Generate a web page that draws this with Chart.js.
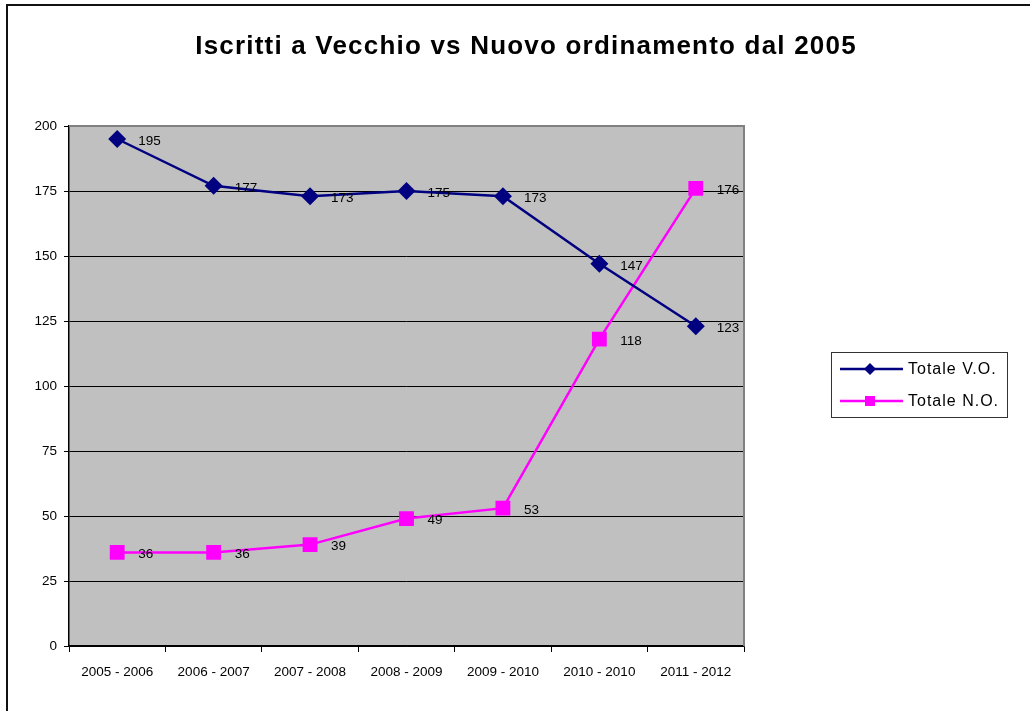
<!DOCTYPE html>
<html>
<head>
<meta charset="utf-8">
<script src="https://cdn.jsdelivr.net/npm/chart.js@4"></script>
<style>
  html, body { margin: 0; padding: 0; background: #fff; }
  #wrap { width: 1030px; height: 711px; position: relative; }
</style>
</head>
<body>
<div id="wrap"><canvas id="chart" width="1030" height="711"></canvas></div>
<script>
// Chart data
const chartTitle = "Iscritti a Vecchio vs Nuovo ordinamento dal 2005";
const categories = ["2005 - 2006", "2006 - 2007", "2007 - 2008", "2008 - 2009", "2009 - 2010", "2010 - 2010", "2011 - 2012"];
const totaleVO = [195, 177, 173, 175, 173, 147, 123];
const totaleNO = [36, 36, 39, 49, 53, 118, 176];
const seriesNames = ["Totale V.O.", "Totale N.O."];
const yTicks = [0, 25, 50, 75, 100, 125, 150, 175, 200];

const FONT = "Arial, 'Liberation Sans', sans-serif";

// Gray plot background, frame, title, labels and legend
const backdrop = {
  id: "backdrop",
  beforeDraw(chart) {
    const { ctx, chartArea: a } = chart;
    ctx.save();
    ctx.fillStyle = "#fff";
    ctx.fillRect(0, 0, chart.width, chart.height);
    ctx.fillStyle = "#c0c0c0";
    ctx.fillRect(a.left, a.top, a.right - a.left, a.bottom - a.top);
    // outer frame (top + left visible)
    ctx.strokeStyle = "#111";
    ctx.lineWidth = 2;
    ctx.beginPath();
    ctx.moveTo(7, 711);
    ctx.lineTo(7, 5);
    ctx.lineTo(1030, 5);
    ctx.stroke();
    // title
    ctx.fillStyle = "#000";
    ctx.font = "bold 26px " + FONT;
    ctx.letterSpacing = "1.2px";
    ctx.textAlign = "center";
    ctx.textBaseline = "middle";
    ctx.fillText(chartTitle, 526, 47);
    ctx.restore();
  },
  afterDatasetsDraw(chart) {
    const { ctx, chartArea: a } = chart;
    ctx.save();
    // gray plot border top/right
    ctx.strokeStyle = "#808080";
    ctx.lineWidth = 2;
    ctx.beginPath();
    ctx.moveTo(a.left, a.top);
    ctx.lineTo(a.right, a.top);
    ctx.lineTo(a.right, a.bottom);
    ctx.stroke();
    // data labels
    ctx.fillStyle = "#000";
    ctx.font = "13.5px " + FONT;
    ctx.textAlign = "left";
    ctx.textBaseline = "middle";
    chart.data.datasets.forEach((ds, i) => {
      chart.getDatasetMeta(i).data.forEach((pt, j) => {
        ctx.fillText(String(ds.data[j]), pt.x + 21, pt.y + 2);
      });
    });
    // legend
    const lx = 831, ly = 352, lw = 176, lh = 65;
    ctx.fillStyle = "#fff";
    ctx.fillRect(lx, ly, lw, lh);
    ctx.strokeStyle = "#333";
    ctx.lineWidth = 1;
    ctx.strokeRect(lx + 0.5, ly + 0.5, lw, lh);
    const rows = [
      { y: ly + 17, color: "#000080", style: "rectRot", name: seriesNames[0] },
      { y: ly + 49, color: "#ff00ff", style: "rect", name: seriesNames[1] }
    ];
    rows.forEach(r => {
      ctx.strokeStyle = r.color;
      ctx.lineWidth = 2.5;
      ctx.beginPath();
      ctx.moveTo(lx + 9, r.y);
      ctx.lineTo(lx + 72, r.y);
      ctx.stroke();
      ctx.fillStyle = r.color;
      if (r.style === "rect") ctx.fillRect(lx + 34, r.y - 5, 10, 10);
      else {
        ctx.beginPath();
        ctx.moveTo(lx + 39, r.y - 6);
        ctx.lineTo(lx + 45, r.y);
        ctx.lineTo(lx + 39, r.y + 6);
        ctx.lineTo(lx + 33, r.y);
        ctx.closePath();
        ctx.fill();
      }
      ctx.fillStyle = "#000";
      ctx.font = "16px " + FONT;
      ctx.letterSpacing = "1px";
      ctx.fillText(r.name, lx + 77, r.y + 1);
      ctx.letterSpacing = "0px";
    });
    ctx.restore();
  }
};

new Chart(document.getElementById("chart"), {
  type: "line",
  data: {
    labels: categories,
    datasets: [
      {
        label: seriesNames[0],
        data: totaleVO,
        borderColor: "#000080",
        backgroundColor: "#000080",
        borderWidth: 2.5,
        pointStyle: "rectRot",
        pointRadius: 9,
        pointBorderWidth: 0,
        tension: 0
      },
      {
        label: seriesNames[1],
        data: totaleNO,
        borderColor: "#ff00ff",
        backgroundColor: "#ff00ff",
        borderWidth: 2.5,
        pointStyle: "rect",
        pointRadius: 10.5,
        pointBorderWidth: 0,
        tension: 0
      }
    ]
  },
  options: {
    responsive: false,
    animation: false,
    layout: { padding: { left: 0, right: 286, top: 126, bottom: 0 } },
    plugins: {
      legend: { display: false },
      title: { display: false },
      tooltip: { enabled: false }
    },
    scales: {
      x: {
        offset: true,
        grid: {
          offset: true,
          drawOnChartArea: false,
          color: "#000",
          tickLength: 6,
          tickColor: "#000"
        },
        border: { color: "#000", width: 1.5 },
        ticks: {
          color: "#000",
          font: { family: FONT, size: 13.5 },
          padding: 12,
          maxRotation: 0,
          autoSkip: false
        },
        afterFit(scale) { scale.height = 65; }
      },
      y: {
        min: 0,
        max: 200,
        afterBuildTicks(scale) { scale.ticks = yTicks.map(v => ({ value: v })); },
        grid: {
          color: ctx => (ctx.tick && ctx.tick.value === 200 ? "rgba(0,0,0,0)" : "#000"),
          lineWidth: 1,
          tickLength: 5,
          tickColor: "#000"
        },
        border: { color: "#000", width: 1.5 },
        ticks: {
          color: "#000",
          font: { family: FONT, size: 13.5 },
          padding: 7
        },
        afterFit(scale) { scale.width = 69; }
      }
    }
  },
  plugins: [backdrop]
});
</script>
</body>
</html>
